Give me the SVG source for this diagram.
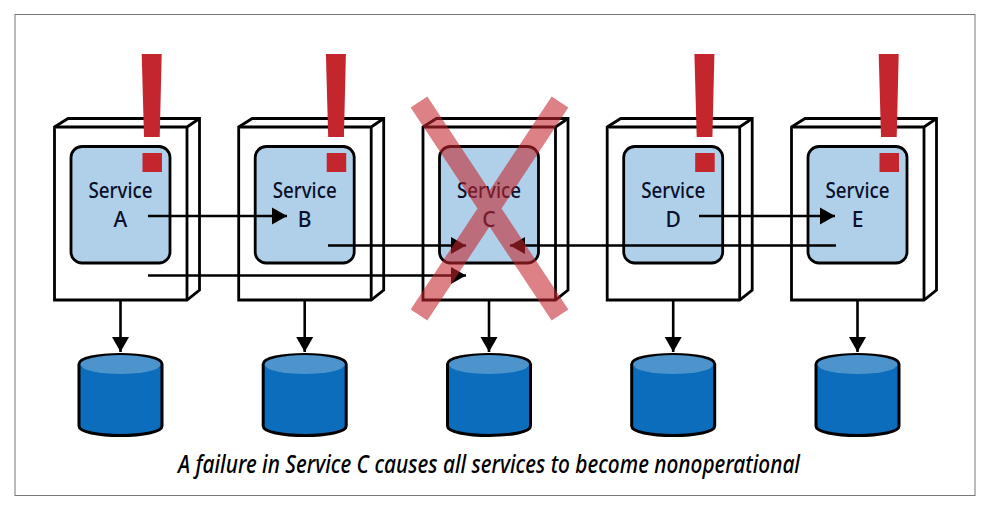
<svg xmlns="http://www.w3.org/2000/svg" width="990" height="508" viewBox="0 0 990 508">
<style>
.f{fill:#fff;stroke:#000;stroke-width:2.8;stroke-linejoin:miter}
.i{fill:#afd0e8;stroke:#000;stroke-width:2.8}
.r{fill:#c4262e}
.t{font-family:"Noto Sans","Liberation Sans",sans-serif;font-size:21px;font-weight:500;fill:#0a0f2a;text-anchor:middle}
.c{fill:none;stroke:#000;stroke-width:2.6}
.d{fill:#0b6dbb;stroke:#000;stroke-width:3}
.e{fill:#4c94cb}
.x{stroke:#c4262e;stroke-width:20;stroke-opacity:.58;fill:none}
</style>
<defs>
<marker id="a" markerUnits="userSpaceOnUse" markerWidth="15" markerHeight="18" refX="15" refY="9" orient="auto"><path d="M0 0.500L15 9L0 17.500Z" fill="#000"/></marker>
<g id="box">
<path class="f" d="M54.500 127L68 118.500H199.500V290L187 300H54.500Z"/>
<path class="f" fill="none" d="M54.500 127H187V300M187 127L199.500 118.500"/>
<rect class="i" x="71" y="146.500" width="99" height="116.500" rx="11"/>
</g>
<g id="mark"><path class="r" d="M141.700 54H161.700L159.700 137H144Z"/><rect class="r" x="142.500" y="153" width="19.500" height="19"/></g>
<g id="cyl">
<path class="d" d="M79 364C79 358 98 354.500 120.500 354.500S162 358 162 364V426C162 432 143 435.500 120.500 435.500S79 432 79 426Z"/>
<ellipse class="e" cx="120.500" cy="364.500" rx="40" ry="9.500"/>
</g>
</defs>
<rect x="15" y="14.500" width="960" height="481" fill="#fff" stroke="#777" stroke-width="1"/>
<g id="service-a"><use href="#box"/><use href="#mark"/><text class="t" x="120.500" y="198" textLength="64" lengthAdjust="spacingAndGlyphs">Service</text><text class="t" x="120.500" y="227">A</text></g>
<g id="service-b"><use href="#box" x="184.200"/><use href="#mark" x="184.200"/><text class="t" x="304.700" y="198" textLength="64" lengthAdjust="spacingAndGlyphs">Service</text><text class="t" x="304.700" y="227">B</text></g>
<g id="service-c"><use href="#box" x="368.500"/><text class="t" x="489" y="198" textLength="64" lengthAdjust="spacingAndGlyphs">Service</text><text class="t" x="489" y="227">C</text></g>
<g id="service-d"><use href="#box" x="552.700"/><use href="#mark" x="552.700"/><text class="t" x="673.200" y="198" textLength="64" lengthAdjust="spacingAndGlyphs">Service</text><text class="t" x="673.200" y="227">D</text></g>
<g id="service-e"><use href="#box" x="737"/><use href="#mark" x="737"/><text class="t" x="857.500" y="198" textLength="64" lengthAdjust="spacingAndGlyphs">Service</text><text class="t" x="857.500" y="227">E</text></g>
<g id="db-a"><use href="#cyl"/></g>
<g id="db-b"><use href="#cyl" x="184.200"/></g>
<g id="db-c"><use href="#cyl" x="368.500"/></g>
<g id="db-d"><use href="#cyl" x="552.700"/></g>
<g id="db-e"><use href="#cyl" x="737"/></g>
<g id="connectors">
<path class="c" marker-end="url(#a)" d="M148 216H287"/>
<path class="c" marker-end="url(#a)" d="M148 275.500H466"/>
<path class="c" marker-end="url(#a)" d="M328 245.500H466"/>
<path class="c" marker-end="url(#a)" d="M836 245.500H510"/>
<path class="c" marker-end="url(#a)" d="M699 216H835"/>
<path class="c" marker-end="url(#a)" d="M120.500 300V352"/>
<path class="c" marker-end="url(#a)" d="M304.700 300V352"/>
<path class="c" marker-end="url(#a)" d="M489 300V352"/>
<path class="c" marker-end="url(#a)" d="M673.200 300V352"/>
<path class="c" marker-end="url(#a)" d="M857.500 300V352"/>
</g>
<g id="cross"><path class="x" d="M419 102L560 315M560 102L419 315"/></g>
<text x="489" y="473" font-family="Noto Sans,Liberation Sans,sans-serif" font-size="26" font-style="italic" font-weight="500" fill="#000" text-anchor="middle" textLength="622" lengthAdjust="spacingAndGlyphs">A failure in Service C causes all services to become nonoperational</text>
</svg>
